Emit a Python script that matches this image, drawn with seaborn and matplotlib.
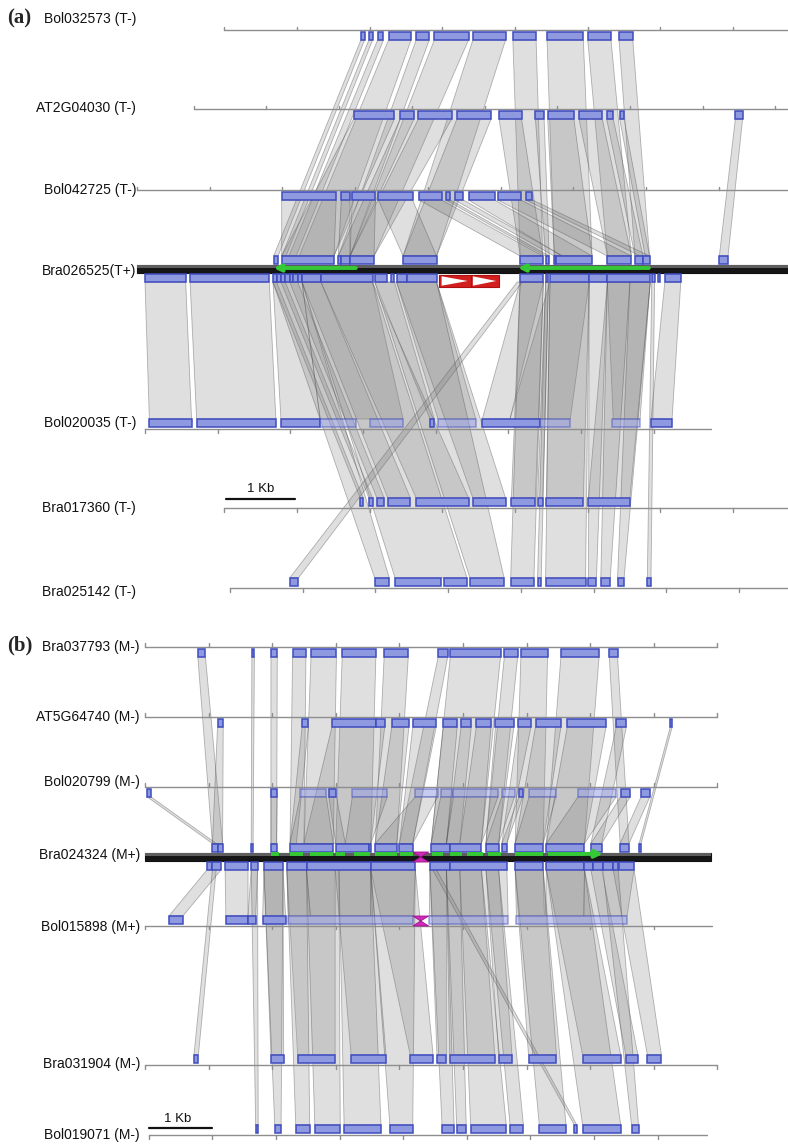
import matplotlib
matplotlib.use("Agg")
import matplotlib.pyplot as plt
from matplotlib.patches import Polygon, Rectangle
from matplotlib.transforms import blended_transform_factory
import seaborn as sns

sns.set_theme(style="white")
plt.rcParams["font.family"] = ["Liberation Sans", "DejaVu Sans"]

# ---------------- panel (a): positions in kb ----------------
a_names = ["Bol032573 (T-)", "AT2G04030 (T-)", "Bol042725 (T-)", "Bra026525(T+)",
           "Bol020035 (T-)", "Bra017360 (T-)", "Bra025142 (T-)"]
a_start = [1.20, 0.78, 0.0, 0.0, 0.11, 1.20, 1.28]
a_end = [8.96, 8.96, 8.96, 8.96, 7.90, 8.96, 8.96]

a_blocks = [
    [[3.08, 3.13], [3.19, 3.24], [3.31, 3.39], [3.46, 3.77], [3.84, 4.02], [4.09, 4.56],
     [4.62, 5.07], [5.17, 5.49], [5.64, 6.14], [6.20, 6.52], [6.63, 6.82]],
    [[2.98, 3.54], [3.62, 3.81], [3.87, 4.33], [4.40, 4.87], [4.98, 5.29], [5.48, 5.60],
     [5.65, 6.01], [6.08, 6.40], [6.46, 6.55], [6.64, 6.70], [8.23, 8.33]],
    [[1.99, 2.74], [2.81, 2.93], [2.96, 3.28], [3.32, 3.79], [3.88, 4.19], [4.25, 4.31],
     [4.37, 4.49], [4.56, 4.92], [4.96, 5.28], [5.35, 5.44]],
    [],
    [[0.17, 0.75], [0.82, 1.91], [1.98, 2.52], [4.03, 4.09], [4.75, 5.54], [7.07, 7.36]],
    [[3.07, 3.11], [3.19, 3.24], [3.30, 3.40], [3.45, 3.76], [3.84, 4.56], [4.62, 5.07],
     [5.15, 5.48], [5.51, 5.58], [5.63, 6.14], [6.21, 6.78]],
    [[2.10, 2.22], [3.27, 3.47], [3.55, 4.18], [4.22, 4.54], [4.58, 5.05], [5.14, 5.46],
     [5.51, 5.56], [5.62, 6.17], [6.21, 6.32], [6.38, 6.51], [6.61, 6.70], [7.02, 7.07]],
]
a_faded = [[], [], [], [],
           [[2.52, 3.01], [3.21, 3.66], [4.14, 4.66], [5.54, 5.96], [6.53, 6.92]],
           [], []]
a_ref_top = [[1.88, 1.94], [1.99, 2.71], [2.77, 2.81], [2.81, 2.93], [2.93, 3.26],
             [3.66, 4.12], [5.27, 5.58], [5.62, 5.67], [5.74, 5.76], [5.76, 6.26],
             [6.47, 6.80], [6.85, 6.96], [6.96, 7.05], [8.01, 8.13]]
a_ref_bot = [[0.11, 0.67], [0.73, 1.82], [1.87, 1.92], [1.92, 1.98], [1.98, 2.04],
             [2.04, 2.10], [2.10, 2.15], [2.15, 2.21], [2.21, 2.27], [2.27, 2.53],
             [2.53, 3.24], [3.27, 3.44], [3.49, 3.54], [3.57, 3.71], [3.71, 4.12],
             [5.27, 5.59], [5.62, 5.66], [5.68, 6.22], [6.22, 6.47], [6.47, 7.06],
             [7.08, 7.12], [7.16, 7.19], [7.26, 7.48]]
# links: (track x0, track x1, reference x0, reference x1)
a_links = [
    [(3.08, 3.13, 1.88, 1.94), (3.19, 3.24, 1.99, 2.05), (3.31, 3.39, 2.09, 2.19),
     (3.46, 3.77, 2.23, 2.71), (3.84, 4.02, 2.77, 2.93), (4.09, 4.56, 2.93, 3.26),
     (4.62, 5.07, 3.66, 4.12), (5.17, 5.49, 5.27, 5.58), (5.64, 6.14, 5.74, 6.26),
     (6.20, 6.52, 6.47, 6.80), (6.63, 6.82, 6.85, 7.05)],
    [(2.98, 3.54, 1.99, 2.71), (3.62, 3.81, 2.77, 2.93), (3.87, 4.33, 2.93, 3.26),
     (4.40, 4.87, 3.66, 4.12), (4.98, 5.29, 5.27, 5.58), (5.48, 5.60, 5.62, 5.67),
     (5.65, 6.01, 5.74, 6.26), (6.08, 6.40, 6.47, 6.80), (6.46, 6.55, 6.85, 6.96),
     (6.64, 6.70, 6.99, 7.05), (8.23, 8.33, 8.01, 8.13)],
    [(1.99, 2.74, 1.99, 2.71), (2.81, 2.93, 2.77, 2.93), (2.96, 3.28, 2.93, 3.26),
     (3.32, 3.79, 3.66, 4.12), (3.88, 4.19, 5.27, 5.58), (4.25, 4.31, 5.62, 5.67),
     (4.37, 4.49, 5.74, 5.85), (4.56, 4.92, 5.85, 6.26), (4.96, 5.28, 6.47, 6.80),
     (5.35, 5.44, 6.92, 7.05)],
    [],
    [(0.17, 0.75, 0.11, 0.67), (0.82, 1.91, 0.73, 1.82), (1.98, 2.52, 1.87, 2.27),
     (2.52, 3.66, 2.27, 3.24), (4.03, 4.09, 3.27, 3.54), (4.14, 4.66, 3.57, 4.12),
     (4.75, 5.13, 5.27, 5.59), (5.13, 5.96, 5.68, 6.22), (6.55, 6.92, 6.47, 7.06),
     (7.07, 7.36, 7.26, 7.48)],
    [(3.07, 3.11, 1.87, 1.92), (3.19, 3.24, 1.98, 2.04), (3.30, 3.40, 2.10, 2.21),
     (3.45, 3.76, 2.27, 2.53), (3.84, 4.56, 2.53, 3.24), (4.62, 5.07, 3.57, 4.12),
     (5.15, 5.48, 5.27, 5.59), (5.51, 5.58, 5.62, 5.66), (5.63, 6.14, 5.68, 6.22),
     (6.21, 6.78, 6.47, 7.06)],
    [(2.10, 2.22, 5.23, 5.30), (3.27, 3.47, 1.87, 2.27), (3.55, 4.54, 2.27, 3.24),
     (4.58, 5.05, 3.27, 4.12), (5.14, 5.46, 5.27, 5.59), (5.51, 5.56, 5.62, 5.66),
     (5.62, 6.17, 5.68, 6.22), (6.21, 6.32, 6.22, 6.47), (6.38, 6.51, 6.47, 6.78),
     (6.61, 6.70, 6.78, 7.06), (7.02, 7.07, 7.08, 7.12)],
]
a_gene_arrows = [(3.01, 1.88), (7.04, 5.24)]     # green, tail -> head
a_insertion = [[4.16, 4.59], [4.59, 4.98]]       # red arrows

# ---------------- panel (b) ----------------
b_names = ["Bra037793 (M-)", "AT5G64740 (M-)", "Bol020799 (M-)", "Bra024324 (M+)",
           "Bol015898 (M+)", "Bra031904 (M-)", "Bol019071 (M-)"]
b_start = [0.0, 0.0, 0.0, 0.0, 0.0, 0.0, 0.06]
b_end = [8.99, 8.99, 8.99, 8.90, 8.92, 8.99, 8.84]

b_blocks = [
    [[0.83, 0.95], [1.68, 1.72], [1.98, 2.08], [2.32, 2.53], [2.61, 3.01], [3.10, 3.63],
     [3.76, 4.14], [4.61, 4.76], [4.80, 5.59], [5.65, 5.86], [5.91, 6.33], [6.54, 7.14],
     [7.30, 7.43]],
    [[1.14, 1.23], [2.47, 2.57], [2.94, 3.63], [3.63, 3.77], [3.88, 4.15], [4.21, 4.58],
     [4.69, 4.91], [4.97, 5.13], [5.21, 5.44], [5.51, 5.80], [5.87, 6.07], [6.14, 6.54],
     [6.64, 7.25], [7.41, 7.57], [8.26, 8.29]],
    [[0.03, 0.09], [1.98, 2.08], [2.89, 3.01], [5.88, 5.94], [7.48, 7.63], [7.80, 7.94]],
    [],
    [[0.38, 0.60], [1.27, 1.62], [1.62, 1.74], [1.85, 2.21]],
    [[0.77, 0.84], [1.98, 2.18], [2.40, 2.99], [3.24, 3.79], [4.17, 4.53], [4.59, 4.74],
     [4.79, 5.50], [5.56, 5.77], [6.03, 6.47], [6.88, 7.48], [7.56, 7.75], [7.90, 8.12]],
    [[1.74, 1.78], [2.04, 2.14], [2.37, 2.59], [2.67, 3.07], [3.13, 3.71], [3.85, 4.21],
     [4.67, 4.86], [4.90, 5.05], [5.12, 5.68], [5.74, 5.95], [6.20, 6.62], [6.75, 6.79],
     [6.88, 7.48], [7.65, 7.76]],
]
b_faded = [[], [],
           [[2.44, 2.85], [3.26, 3.81], [4.25, 4.60], [4.65, 4.82], [4.85, 5.55],
            [5.61, 5.81], [6.04, 6.46], [6.81, 7.41]],
           [],
           [[2.25, 4.22], [4.47, 5.71], [5.84, 7.58]],
           [], []]
b_ref_top = [[1.06, 1.14], [1.14, 1.22], [1.67, 1.70], [1.98, 2.07], [2.28, 2.96],
             [3.00, 3.52], [3.52, 3.55], [3.62, 3.96], [4.00, 4.21], [4.50, 4.80],
             [4.80, 5.29], [5.36, 5.56], [5.61, 5.69], [5.82, 6.26], [6.31, 6.91],
             [7.01, 7.18], [7.47, 7.61], [7.77, 7.80]]
b_ref_bot = [[0.98, 1.06], [1.06, 1.20], [1.26, 1.62], [1.67, 1.77], [1.87, 2.17],
             [2.23, 2.54], [2.54, 3.55], [3.55, 4.25], [4.48, 4.80], [4.80, 5.69],
             [5.82, 6.26], [6.31, 6.91], [6.91, 7.05], [7.05, 7.20], [7.20, 7.36],
             [7.36, 7.44], [7.46, 7.69]]
b_links = [
    [(0.83, 0.95, 1.06, 1.22), (1.68, 1.72, 1.67, 1.70), (1.98, 2.08, 1.98, 2.07),
     (2.32, 2.53, 2.28, 2.50), (2.61, 3.01, 2.50, 2.96), (3.10, 3.63, 3.00, 3.55),
     (3.76, 4.14, 3.62, 3.96), (4.61, 4.76, 4.00, 4.21), (4.80, 5.59, 4.50, 5.29),
     (5.65, 5.86, 5.36, 5.56), (5.91, 6.33, 5.82, 6.26), (6.54, 7.14, 6.31, 6.91),
     (7.30, 7.43, 7.47, 7.61)],
    [(1.14, 1.23, 1.06, 1.22), (2.47, 2.57, 2.28, 2.38), (2.94, 3.77, 2.50, 3.55),
     (3.88, 4.15, 3.62, 3.96), (4.21, 4.58, 4.00, 4.21), (4.69, 4.91, 4.50, 4.74),
     (4.97, 5.13, 4.74, 4.95), (5.21, 5.44, 4.95, 5.29), (5.51, 5.80, 5.36, 5.56),
     (5.87, 6.07, 5.61, 5.69), (6.14, 6.54, 5.82, 6.26), (6.64, 7.25, 6.31, 6.91),
     (7.41, 7.57, 7.01, 7.18), (8.26, 8.29, 7.77, 7.80)],
    [(0.03, 0.09, 1.06, 1.12), (1.98, 2.08, 1.98, 2.07), (2.44, 2.85, 2.28, 2.96),
     (2.89, 3.01, 3.00, 3.15), (3.26, 3.81, 3.15, 3.55), (4.25, 4.60, 3.62, 4.21),
     (4.65, 4.82, 4.50, 4.74), (4.85, 5.55, 4.74, 5.29), (5.61, 5.81, 5.36, 5.56),
     (5.88, 5.94, 5.61, 5.69), (6.04, 6.46, 5.82, 6.26), (6.81, 7.41, 6.31, 6.91),
     (7.48, 7.63, 7.01, 7.18), (7.80, 7.94, 7.47, 7.61)],
    [],
    [(0.38, 0.60, 0.98, 1.20), (1.27, 1.62, 1.26, 1.62), (1.62, 1.74, 1.67, 1.77),
     (1.85, 2.21, 1.87, 2.17), (2.25, 2.60, 2.23, 2.54), (2.60, 3.55, 2.54, 3.55),
     (3.55, 4.22, 3.55, 4.25), (4.47, 5.71, 4.48, 5.69), (5.84, 6.28, 5.82, 6.26),
     (6.30, 6.90, 6.31, 6.91), (6.90, 7.58, 6.91, 7.69)],
    [(0.77, 0.84, 1.06, 1.12), (1.98, 2.18, 1.87, 2.17), (2.40, 2.99, 2.23, 2.99),
     (3.24, 3.79, 2.99, 3.55), (4.17, 4.53, 3.55, 4.25), (4.59, 4.74, 4.48, 4.74),
     (4.79, 5.50, 4.74, 5.29), (5.56, 5.77, 5.36, 5.56), (6.03, 6.47, 5.82, 6.26),
     (6.88, 7.48, 6.31, 6.91), (7.56, 7.75, 7.01, 7.18), (7.90, 8.12, 7.36, 7.69)],
    [(1.74, 1.78, 1.67, 1.77), (2.04, 2.14, 1.87, 2.17), (2.37, 2.59, 2.23, 2.54),
     (2.67, 3.07, 2.54, 3.05), (3.13, 3.71, 3.05, 3.55), (3.85, 4.21, 3.55, 4.25),
     (4.67, 4.86, 4.48, 4.74), (4.90, 5.05, 4.74, 4.95), (5.12, 5.68, 4.95, 5.29),
     (5.74, 5.95, 5.36, 5.56), (6.75, 6.79, 4.52, 4.58), (6.20, 6.62, 5.82, 6.26),
     (6.88, 7.48, 6.31, 6.91), (7.65, 7.76, 7.20, 7.44)],
]
b_exons = [[1.98, 2.10], [2.28, 2.49], [2.59, 2.96], [3.00, 3.14], [3.28, 3.54],
           [3.62, 3.96], [4.01, 4.21], [4.52, 4.68], [4.80, 4.98], [5.06, 5.32],
           [5.40, 5.59], [5.82, 6.26], [6.34, 6.92]]
b_gene_arrow = (6.92, 7.20)
b_bowtie = [4.21, 4.46]

# ---------------- styles ----------------
BOX_FILL = "#8e99e0"
BOX_EDGE = "#3f4cc0"
LINK_FILL = "#787878"
LINK_EDGE = "#4a4a4a"
GREEN = "#35c935"
W, H = 788, 1145

fig = plt.figure(figsize=(W / 100, H / 100), dpi=100)


def draw_box(ax, x0, x1, y0, y1, faded=False):
    ax.add_patch(Rectangle((x0, y0), x1 - x0, y1 - y0, facecolor=BOX_FILL,
                           edgecolor=BOX_EDGE, lw=1.1, alpha=0.5 if faded else 1.0,
                           zorder=4))


def draw_panel(ax, names, label_y, starts, ends, track_y, ref_i, blocks, faded,
               ref_top, ref_bot, links, label_right):
    yr = track_y[ref_i]
    ref_top_y = yr - 13
    ref_bot_y = yr + 13
    # links (drawn first)
    for i, lk in enumerate(links):
        if i == ref_i:
            continue
        y = track_y[i]
        for x0, x1, r0, r1 in lk:
            if i < ref_i:
                pts = [(x0, y + 10), (x1, y + 10), (r1, ref_top_y), (r0, ref_top_y)]
            else:
                pts = [(r0, ref_bot_y), (r1, ref_bot_y), (x1, y - 10), (x0, y - 10)]
            ax.add_patch(Polygon(pts, closed=True, facecolor=LINK_FILL, alpha=0.23,
                                 edgecolor="none", zorder=1))
            ax.add_patch(Polygon(pts, closed=True, facecolor="none",
                                 edgecolor=LINK_EDGE, alpha=0.4, lw=0.6, zorder=1))
    tr = blended_transform_factory(ax.transAxes, ax.transData)
    for i, name in enumerate(names):
        y = track_y[i]
        ax.text(label_right, label_y[i], name, transform=tr, ha="right", va="center",
                fontsize=10, color="#111111")
        if i == ref_i:
            # thick reference bar with shading
            ax.add_patch(Rectangle((starts[i], y - 4), ends[i] - starts[i], 8,
                                   facecolor="#161616", edgecolor="#111111", lw=0.8,
                                   zorder=3))
            ax.add_patch(Rectangle((starts[i], y - 3.6), ends[i] - starts[i], 3,
                                   facecolor="#5e5e5e", edgecolor="none", zorder=3))
            for x0, x1 in ref_top:
                draw_box(ax, x0, x1, yr - 13, yr - 5)
            for x0, x1 in ref_bot:
                draw_box(ax, x0, x1, yr + 5, yr + 13)
            continue
        ax.plot([starts[i], ends[i]], [y, y], color="#8e8e8e", lw=1.0, zorder=2)
        k = 0
        while starts[i] + k <= ends[i] + 0.01:
            tx = starts[i] + k
            ty = (y - 3.5, y) if i < ref_i else (y, y + 3.5)
            ax.plot([tx, tx], ty, color="#8e8e8e", lw=1.0, zorder=2)
            k += 1
        for x0, x1 in blocks[i]:
            if i < ref_i:
                draw_box(ax, x0, x1, y + 2, y + 10)
            else:
                draw_box(ax, x0, x1, y - 10, y - 2)
        for x0, x1 in faded[i]:
            if i < ref_i:
                draw_box(ax, x0, x1, y + 2, y + 10, faded=True)
            else:
                draw_box(ax, x0, x1, y - 10, y - 2, faded=True)


def setup(ax, px_per_kb, x_origin_px, y0, y1):
    ax.set_xlim(-x_origin_px / px_per_kb, (W - x_origin_px) / px_per_kb)
    ax.set_ylim(y1, y0)
    ax.set_axis_off()


# ---------- panel a ----------
ax_a = fig.add_axes([0, 1 - 600 / H, 1, 600 / H])
setup(ax_a, 72.7, 137, 0, 600)
ya = [30, 109, 190, 269, 429, 508, 588]
la = [19, 108, 190, 271, 423, 508, 592]
draw_panel(ax_a, a_names, la, a_start, a_end, ya, 3, a_blocks, a_faded,
           a_ref_top, a_ref_bot, a_links, 136 / W)
for tail, head in a_gene_arrows:
    ax_a.annotate("", xy=(head, 268), xytext=(tail, 268), zorder=5,
                  arrowprops=dict(arrowstyle="-|>", color=GREEN, lw=2.8,
                                  mutation_scale=10, shrinkA=0, shrinkB=0))
for x0, x1 in a_insertion:
    ax_a.add_patch(Rectangle((x0, 275), x1 - x0, 12, facecolor="#d21f1f",
                             edgecolor="#b01010", lw=0.8, zorder=5))
    ax_a.add_patch(Polygon([(x0 + 0.03, 276.3), (x0 + 0.03, 285.7), (x1 - 0.04, 281)],
                           closed=True, facecolor="white", edgecolor="none", zorder=6))
ax_a.plot([1.22, 2.18], [499, 499], color="#111111", lw=1.6)
ax_a.text(1.70, 489, "1 Kb", ha="center", va="center", fontsize=9.5, color="#111111")
ax_a.text(7 / W, 18, "(a)", transform=blended_transform_factory(ax_a.transAxes, ax_a.transData),
          ha="left", va="center", fontsize=15, fontweight="bold",
          family=["Liberation Serif", "DejaVu Serif"])

# ---------- panel b ----------
ax_b = fig.add_axes([0, 0, 1, 545 / H])
setup(ax_b, 63.6, 145, 600, H)
yb = [646.7, 716.7, 786.7, 856.5, 925.7, 1065, 1135]
lb = [646.5, 716.5, 782, 855, 927.5, 1064, 1135]
draw_panel(ax_b, b_names, lb, b_start, b_end, yb, 3, b_blocks, b_faded,
           b_ref_top, b_ref_bot, b_links, 140 / W)
for x0, x1 in b_exons:
    ax_b.plot([x0, x1], [853.8, 853.8], color=GREEN, lw=2.8, zorder=5,
              solid_capstyle="butt")
ax_b.annotate("", xy=(b_gene_arrow[1], 853.8), xytext=(b_gene_arrow[0], 853.8), zorder=5,
              arrowprops=dict(arrowstyle="-|>", color=GREEN, lw=2.8,
                              mutation_scale=11, shrinkA=0, shrinkB=0))
for yc in (857, 921):
    x0, x1 = b_bowtie
    xm = (x0 + x1) / 2
    ax_b.add_patch(Polygon([(x0, yc - 5), (x1, yc - 5), (xm, yc), (x1, yc + 5),
                            (x0, yc + 5), (xm, yc)], closed=True,
                           facecolor="#d02ab8", edgecolor="#a0108c", lw=0.6, zorder=6))
ax_b.plot([0.06, 1.06], [1128.3, 1128.3], color="#111111", lw=1.6)
ax_b.text(0.52, 1119, "1 Kb", ha="center", va="center", fontsize=9.5, color="#111111")
ax_b.text(7 / W, 645, "(b)", transform=blended_transform_factory(ax_b.transAxes, ax_b.transData),
          ha="left", va="center", fontsize=15, fontweight="bold",
          family=["Liberation Serif", "DejaVu Serif"])

fig.savefig("out.png", dpi=100, facecolor="white")
